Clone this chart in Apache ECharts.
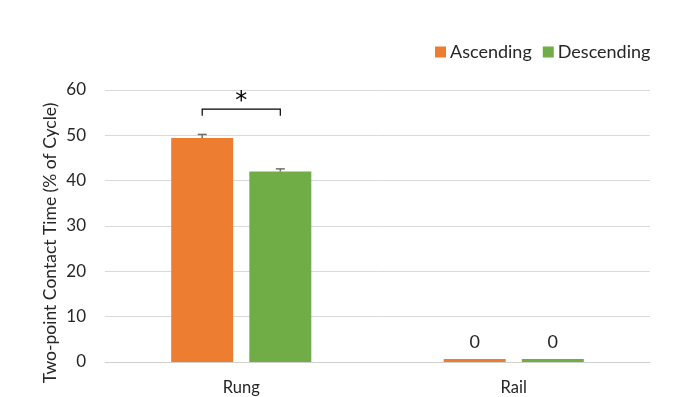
<!DOCTYPE html>
<html>
<head>
<meta charset="utf-8">
<script src="https://cdn.jsdelivr.net/npm/echarts@6/dist/echarts.min.js"></script>
<style>
  html, body { margin: 0; padding: 0; background: #fff; }
  #chart { width: 678px; height: 397px; }
</style>
</head>
<body>
<div id="chart"></div>
<script>
// Two-point contact time by surface and climbing direction
const categories = ['Rung', 'Rail'];
const seriesNames = ['Ascending', 'Descending'];
const ascending = [49.4, 0];
const descending = [42.0, 0];
const ascendingErr = [0.8, 0];
const descendingErr = [0.6, 0];
const yTicks = { min: 0, max: 60, interval: 10 };
// significance bracket between the two Rung bars: [category, bracket level, leg end, star level]
const bracket = [[0, 55.8, 54.3, 57.4, '*']];

const FONT = 'Lato, "Open Sans", sans-serif';
const BAR_W_FRAC = 0.2275;   // bar width as a share of the category band
const BAR_GAP_FRAC = 0.26;   // gap between paired bars, relative to bar width

const colors = ['#ED7D31', '#70AD47'];

function barOffset(bandW, idx) {
  const w = bandW * BAR_W_FRAC;
  const g = w * BAR_GAP_FRAC;
  return (idx === 0 ? -1 : 1) * (w + g) / 2;
}

const errData = [];
categories.forEach((c, i) => {
  if (ascendingErr[i] > 0) errData.push([i, ascending[i], ascendingErr[i], 0]);
  if (descendingErr[i] > 0) errData.push([i, descending[i], descendingErr[i], 1]);
});

const zeroLabel = {
  show: true,
  position: 'top',
  distance: 8,
  fontFamily: FONT,
  fontSize: 18,
  color: '#262626',
  formatter: p => (p.value === 0 ? '0' : '')
};

const chart = echarts.init(document.getElementById('chart'), null, { renderer: 'canvas' });
chart.setOption({
  animation: false,
  color: colors,
  textStyle: { fontFamily: FONT },
  grid: { left: 105, right: 28, top: 90, bottom: 35, containLabel: false },
  legend: {
    data: seriesNames,
    left: 430,
    top: 38,
    icon: 'rect',
    itemWidth: 11,
    itemHeight: 11,
    itemGap: 11,
    textStyle: { fontFamily: FONT, fontSize: 18, color: '#262626', padding: [0, 0, 0, -1] }
  },
  xAxis: {
    type: 'category',
    data: categories,
    axisLine: { lineStyle: { color: '#d0d0d0', width: 1 } },
    axisTick: { show: false },
    axisLabel: { fontFamily: FONT, fontSize: 16.5, color: '#262626', margin: 17 }
  },
  yAxis: {
    type: 'value',
    min: yTicks.min,
    max: yTicks.max,
    interval: yTicks.interval,
    axisLine: { show: false },
    axisTick: { show: false },
    axisLabel: { fontFamily: FONT, fontSize: 17, color: '#262626', margin: 19 },
    splitLine: { lineStyle: { color: '#d9d9d9', width: 1 } }
  },
  graphic: [{
    type: 'text',
    x: 50,
    y: 243,
    rotation: Math.PI / 2,
    style: {
      text: 'Two-point Contact Time (% of Cycle)',
      font: '17.5px ' + FONT,
      fill: '#262626',
      textAlign: 'center',
      textVerticalAlign: 'middle'
    }
  }],
  series: [
    {
      name: seriesNames[0],
      type: 'bar',
      data: ascending,
      barWidth: (BAR_W_FRAC * 100) + '%',
      barGap: (BAR_GAP_FRAC * 100) + '%',
      barMinHeight: 3,
      itemStyle: { color: colors[0] },
      label: zeroLabel
    },
    {
      name: seriesNames[1],
      type: 'bar',
      data: descending,
      barWidth: (BAR_W_FRAC * 100) + '%',
      barGap: (BAR_GAP_FRAC * 100) + '%',
      barMinHeight: 3,
      itemStyle: { color: colors[1] },
      label: zeroLabel
    },
    {
      // error bars on top of each bar
      type: 'custom',
      silent: true,
      z: 5,
      data: errData,
      renderItem: (params, api) => {
        const cat = api.value(0), mean = api.value(1), err = api.value(2), idx = api.value(3);
        const bandW = api.size([1, 0])[0];
        const c = api.coord([cat, mean]);
        const top = api.coord([cat, mean + err]);
        const x = c[0] + barOffset(bandW, idx);
        const half = 4.5;
        return {
          type: 'group',
          children: [
            { type: 'line', shape: { x1: x, y1: c[1], x2: x, y2: top[1] }, style: { stroke: '#6f6f6f', lineWidth: 1.5 } },
            { type: 'line', shape: { x1: x - half, y1: top[1], x2: x + half, y2: top[1] }, style: { stroke: '#6f6f6f', lineWidth: 1.5 } }
          ]
        };
      }
    },
    {
      // significance bracket with star
      type: 'custom',
      silent: true,
      z: 5,
      data: bracket,
      renderItem: (params, api) => {
        const cat = api.value(0);
        const bandW = api.size([1, 0])[0];
        const mid = api.coord([cat, api.value(1)]);
        const leg = api.coord([cat, api.value(2)]);
        const star = api.coord([cat, api.value(3)]);
        const xl = mid[0] + barOffset(bandW, 0);
        const xr = mid[0] + barOffset(bandW, 1);
        return {
          type: 'group',
          children: [
            {
              type: 'polyline',
              shape: { points: [[xl, leg[1]], [xl, mid[1]], [xr, mid[1]], [xr, leg[1]]] },
              style: { stroke: '#000', lineWidth: 1.2, fill: null }
            },
            {
              type: 'text',
              x: (xl + xr) / 2,
              y: star[1],
              style: {
                text: api.value(4),
                font: '24px "DejaVu Sans", sans-serif',
                fill: '#000',
                textAlign: 'center',
                textVerticalAlign: 'middle'
              }
            }
          ]
        };
      }
    }
  ]
});
</script>
</body>
</html>
